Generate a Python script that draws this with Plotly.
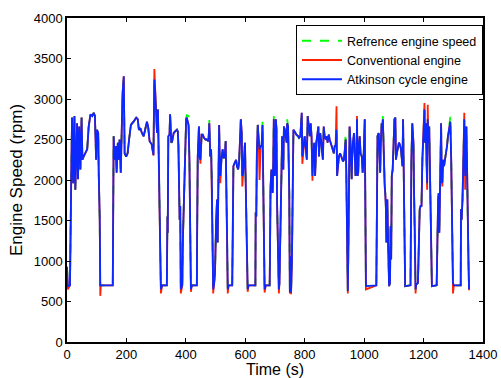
import plotly.graph_objects as go

time_s = [0, 3, 10, 12, 15, 17, 21, 25, 28, 34, 37, 41, 45, 49, 52, 56, 62, 68, 73, 79, 85, 90, 94, 98, 101, 105, 107, 110, 112, 114,
          154, 157, 160, 164, 167, 171, 174, 177, 181, 184, 187, 191, 194, 199, 204, 209, 215, 224, 233, 238, 242, 247, 252, 258,
          263, 269, 273, 278, 285, 291, 294, 297, 303, 306, 309, 314, 316, 320, 336, 338, 339, 341, 345, 347, 351, 354, 359, 364,
          370, 373, 375, 379, 381, 383, 388, 390, 394, 398, 401, 403, 409, 412, 414, 417, 420, 437, 438, 440, 444, 446, 449, 453,
          457, 461, 466, 470, 476, 479, 482, 485, 487, 489, 492, 495, 498, 502, 505, 507, 510, 512, 514, 516, 520, 524, 527, 531,
          534, 536, 539, 541, 544, 556, 558, 560, 564, 569, 572, 576, 579, 582, 585, 588, 590, 593, 596, 599, 601, 604, 606, 608,
          611, 634, 635, 637, 639, 642, 645, 648, 652, 655, 658, 660, 663, 665, 669, 682, 683, 685, 688, 692, 694, 696, 699, 701,
          703, 705, 707, 711, 713, 715, 719, 722, 724, 728, 730, 733, 737, 739, 741, 744, 748, 750, 752, 754, 757, 759, 762, 766,
          769, 772, 778, 781, 785, 788, 790, 792, 795, 797, 800, 804, 807, 810, 814, 817, 820, 823, 826, 828, 832, 835, 839, 843,
          846, 848, 852, 856, 861, 864, 867, 871, 874, 877, 881, 884, 888, 891, 894, 898, 901, 904, 907, 909, 912, 915, 919, 922,
          926, 929, 932, 936, 938, 940, 942, 945, 947, 949, 951, 954, 956, 958, 960, 962, 966, 969, 971, 974, 976, 978, 980, 983,
          985, 988, 992, 995, 998, 1002, 1004, 1006, 1041, 1043, 1045, 1049, 1052, 1054, 1056, 1059, 1061, 1063, 1067, 1069, 1071,
          1073, 1075, 1078, 1080, 1082, 1084, 1087, 1089, 1091, 1093, 1096, 1098, 1100, 1102, 1105, 1107, 1110, 1114, 1117, 1120,
          1124, 1127, 1129, 1131, 1134, 1136, 1138, 1156, 1157, 1159, 1162, 1164, 1166, 1168, 1171, 1173, 1175, 1181, 1184, 1187,
          1190, 1193, 1196, 1199, 1201, 1203, 1205, 1208, 1210, 1212, 1214, 1216, 1219, 1221, 1223, 1225, 1228, 1244, 1247, 1249,
          1251, 1253, 1257, 1259, 1261, 1263, 1266, 1269, 1272, 1276, 1279, 1282, 1287, 1290, 1293, 1295, 1297, 1299, 1302, 1325,
          1326, 1328, 1331, 1333, 1335, 1337, 1340, 1342, 1344, 1346, 1348, 1351, 1353]

atkinson_rpm = [930, 690, 700, 1760, 2250, 2770, 1960, 2790, 1880, 2700, 2010, 2660, 2130, 2770, 2250, 2290, 2330, 2380, 2660, 2810, 2790, 2830, 2790, 2250, 2620, 2580, 2050, 1550, 690, 700,
                700, 2540, 2250, 2420, 2090, 2460, 2250, 2500, 2090, 2790, 3070, 3280, 2330, 2290, 2330, 2500, 2680, 2720, 2770, 2750, 2620, 2640, 2580, 2540,
                2620, 2720, 2660, 2480, 2440, 2310, 3240, 3070, 2580, 2870, 2250, 1390, 650, 700, 700, 1550, 1350, 2540, 2560, 2810, 2460, 2480, 2580, 2600,
                2620, 2600, 2420, 1510, 1680, 650, 700, 1270, 1880, 2420, 2750, 2770, 2680, 2250, 1640, 650, 700, 700, 1350, 2290, 2660, 2290, 2250, 2560,
                2560, 2520, 2500, 2500, 2480, 2700, 2290, 2380, 2050, 1430, 650, 710, 860, 1510, 1760, 1230, 2500, 2680, 2250, 2050, 2270, 2380, 2270, 2290,
                2480, 1640, 1230, 650, 700, 700, 1350, 2170, 2210, 2250, 2170, 2130, 2210, 2460, 2750, 2580, 2050, 2090, 2380, 2460, 2050, 1430, 1180, 650,
                700, 700, 1600, 1550, 2330, 2680, 2500, 2380, 2420, 2420, 2680, 2170, 1470, 650, 700, 700, 1020, 1920, 2130, 1840, 2170, 2750, 2050, 2170,
                2750, 2620, 1720, 860, 650, 730, 1430, 2330, 2540, 2130, 2660, 2620, 2540, 2460, 2700, 2660, 1840, 610, 1060, 610, 1020, 2010, 2620, 2600,
                2580, 2560, 2540, 2520, 2540, 2660, 2830, 2290, 2380, 2420, 2540, 2380, 2250, 2790, 2660, 2540, 2700, 2540, 2050, 2290, 2460, 2050, 2460, 2620,
                2660, 2290, 2580, 2460, 2250, 2660, 2540, 2500, 2540, 2460, 2560, 2500, 2460, 2420, 2380, 2330, 2420, 2420, 2620, 2050, 2250, 2290, 2330, 2290,
                2250, 2230, 2250, 2420, 2500, 2090, 1270, 630, 1180, 1840, 2660, 2460, 2250, 2010, 2290, 2460, 2580, 2250, 2050, 2130, 2750, 2050, 2090, 2460,
                2540, 2330, 2290, 2090, 2250, 2750, 1840, 690, 700, 1840, 2540, 2580, 2380, 2090, 2460, 2700, 2660, 2750, 2050, 1960, 1840,
                1680, 1230, 1760, 1350, 860, 690, 730, 1430, 1020, 2050, 2130, 2330, 2460, 2750, 2770, 2250, 2330, 2420, 2460, 2440,
                2380, 2250, 2170, 2750, 1840, 1020, 690, 700, 1430, 2250, 2700, 2500, 2460, 1840, 1350, 650, 710, 730, 1430, 1640,
                1680, 1680, 2250, 2660, 2750, 2870, 2460, 2700, 2250, 1960, 2750, 2460, 2660, 2250, 1510, 1230, 690, 700, 1640, 1760,
                1840, 1350, 2250, 2700, 2050, 1960, 2250, 2170, 2250, 2330, 2420, 2540, 2660, 2720, 2250, 1430, 1020, 730, 700, 700,
                1640, 1510, 1760, 2250, 2700, 2750, 2050, 2460, 2660, 2250, 1430, 1020, 650]

conventional_rpm = [900, 650, 700, 1760, 2250, 2770, 1960, 2790, 1880, 2700, 2010, 2660, 2130, 2770, 2250, 2290, 2330, 2380, 2660, 2810, 2790, 2830, 2790, 2250, 2620, 2580, 2050, 1550, 570, 700,
                    700, 2540, 2250, 2420, 2090, 2460, 2250, 2500, 2090, 2790, 3070, 3280, 2330, 2290, 2330, 2500, 2680, 2720, 2770, 2750, 2620, 2640, 2580, 2540,
                    2620, 2720, 2660, 2480, 2440, 2300, 3370, 3070, 2580, 2870, 2250, 1390, 600, 700, 700, 1550, 1350, 2540, 2560, 2810, 2460, 2480, 2580, 2600,
                    2620, 2600, 2420, 1510, 1680, 600, 700, 1270, 1880, 2420, 2750, 2770, 2680, 2250, 1640, 620, 700, 700, 1350, 2290, 2660, 2290, 2200, 2560,
                    2560, 2520, 2500, 2500, 2480, 2700, 2290, 2380, 2050, 1430, 600, 710, 860, 1510, 1760, 1230, 2500, 2680, 2250, 1960, 2270, 2380, 2270, 2290,
                    2480, 1640, 1230, 600, 700, 700, 1350, 2170, 2210, 2250, 2170, 2130, 2210, 2460, 2750, 2580, 1920, 2090, 2380, 2460, 2050, 1430, 1180, 620,
                    700, 700, 1600, 1550, 2330, 2680, 2500, 2000, 2420, 2420, 2680, 2170, 1470, 610, 700, 700, 1020, 1920, 2130, 1840, 2170, 2750, 2050, 2170,
                    2750, 2620, 1720, 860, 600, 730, 1430, 2330, 2540, 2130, 2660, 2620, 2540, 2460, 2700, 2660, 1840, 600, 1060, 590, 1020, 2010, 2620, 2600,
                    2580, 2560, 2540, 2520, 2540, 2660, 2830, 2200, 2380, 2420, 2540, 2380, 2250, 2790, 2660, 2540, 2700, 2540, 1990, 2290, 2460, 2050, 2460, 2620,
                    2660, 2290, 2580, 2460, 2250, 2660, 2540, 2500, 2540, 2460, 2560, 2500, 2460, 2420, 2380, 2330, 2420, 2420, 2910, 2050, 2250, 2290, 2330, 2290,
                    2250, 2230, 2250, 2420, 2500, 2090, 1270, 600, 1180, 1840, 2660, 2460, 2250, 2010, 2290, 2460, 2580, 2250, 2050, 2130, 2790, 2050, 2090, 2460,
                    2540, 2330, 2290, 2090, 2250, 2750, 1840, 650, 700, 1840, 2540, 2580, 2380, 2090, 2460, 2700, 2660, 2750, 2050, 1920, 1840,
                    1680, 1230, 1760, 1350, 860, 690, 730, 1430, 1020, 2050, 2130, 2330, 2460, 2750, 2770, 2250, 2330, 2420, 2460, 2440,
                    2380, 2250, 2170, 2750, 1840, 1020, 690, 700, 1430, 2250, 2700, 2500, 2460, 1840, 1350, 600, 710, 730, 1430, 1640,
                    1680, 1680, 2250, 2660, 2750, 2950, 2460, 2700, 2250, 1880, 2930, 2460, 2660, 2250, 1510, 1230, 690, 700, 1640, 1760,
                    1840, 1350, 2250, 2700, 2050, 1920, 2250, 2170, 2250, 2330, 2420, 2540, 2660, 2720, 2250, 1430, 1020, 600, 700, 700,
                    1640, 1510, 1760, 2250, 2700, 2830, 1880, 2460, 2660, 2250, 1430, 1020, 640]

reference_rpm = [930, 690, 700, 1760, 2250, 2770, 1960, 2790, 1880, 2700, 2010, 2660, 2130, 2770, 2250, 2290, 2330, 2380, 2660, 2810, 2790, 2830, 2790, 2250, 2620, 2600, 2050, 1550, 690, 700,
                 700, 2540, 2250, 2420, 2090, 2460, 2250, 2500, 2090, 2790, 3070, 3280, 2330, 2290, 2330, 2500, 2680, 2720, 2770, 2750, 2620, 2640, 2580, 2540,
                 2620, 2720, 2660, 2480, 2440, 2310, 3240, 3070, 2580, 2870, 2250, 1390, 650, 700, 700, 1550, 1350, 2540, 2560, 2810, 2460, 2480, 2580, 2600,
                 2620, 2600, 2420, 1510, 1680, 650, 700, 1270, 1880, 2420, 2750, 2800, 2790, 2250, 1640, 650, 700, 700, 1350, 2290, 2660, 2290, 2250, 2560,
                 2560, 2520, 2500, 2500, 2480, 2740, 2290, 2380, 2050, 1430, 650, 710, 860, 1510, 1760, 1230, 2500, 2680, 2250, 2050, 2270, 2380, 2270, 2290,
                 2480, 1640, 1230, 650, 700, 700, 1350, 2170, 2210, 2250, 2170, 2130, 2210, 2460, 2750, 2580, 2050, 2090, 2380, 2460, 2050, 1430, 1180, 650,
                 700, 700, 1600, 1550, 2330, 2680, 2500, 2380, 2420, 2420, 2720, 2170, 1470, 650, 700, 700, 1020, 1920, 2130, 1840, 2170, 2790, 2050, 2170,
                 2750, 2620, 1720, 860, 650, 730, 1430, 2330, 2540, 2130, 2660, 2620, 2540, 2460, 2750, 2660, 1840, 610, 1060, 610, 1020, 2010, 2620, 2600,
                 2580, 2560, 2540, 2520, 2540, 2660, 2830, 2290, 2380, 2420, 2540, 2380, 2250, 2790, 2660, 2540, 2700, 2540, 2050, 2290, 2460, 2050, 2460, 2620,
                 2660, 2290, 2580, 2460, 2250, 2660, 2540, 2500, 2540, 2460, 2560, 2500, 2460, 2420, 2380, 2330, 2420, 2420, 2620, 2050, 2250, 2290, 2330, 2290,
                 2250, 2230, 2250, 2420, 2580, 2090, 1270, 630, 1180, 1840, 2660, 2460, 2250, 2010, 2290, 2460, 2580, 2250, 2050, 2130, 2750, 2050, 2090, 2460,
                 2540, 2330, 2290, 2090, 2250, 2750, 1840, 690, 700, 1840, 2540, 2580, 2380, 2090, 2460, 2700, 2660, 2790, 2050, 1960, 1840,
                 1680, 1230, 1760, 1350, 860, 690, 730, 1430, 1020, 2050, 2130, 2330, 2460, 2750, 2770, 2250, 2330, 2420, 2460, 2440,
                 2380, 2250, 2170, 2790, 1840, 1020, 690, 700, 1430, 2250, 2700, 2500, 2530, 1840, 1350, 650, 710, 730, 1430, 1640,
                 1680, 1680, 2250, 2660, 2750, 2870, 2460, 2700, 2250, 1960, 2750, 2460, 2660, 2250, 1510, 1230, 690, 700, 1640, 1760,
                 1840, 1350, 2250, 2700, 2050, 1960, 2250, 2170, 2250, 2330, 2420, 2540, 2660, 2780, 2250, 1430, 1020, 730, 700, 700,
                 1640, 1510, 1760, 2250, 2700, 2750, 2050, 2460, 2660, 2250, 1430, 1020, 650]

assert len(time_s) == len(atkinson_rpm) == len(conventional_rpm) == len(reference_rpm), (
    len(time_s), len(atkinson_rpm), len(conventional_rpm), len(reference_rpm))

x_ticks = [0, 200, 400, 600, 800, 1000, 1200, 1400]
y_ticks = [0, 500, 1000, 1500, 2000, 2500, 3000, 3500, 4000]

FONT = "Liberation Sans, Arial, Helvetica, sans-serif"

fig = go.Figure()
fig.add_trace(go.Scatter(x=time_s, y=reference_rpm, mode="lines", name="Refrence engine speed",
                         line=dict(color="#00ff00", width=1.8, dash="dash")))
fig.add_trace(go.Scatter(x=time_s, y=conventional_rpm, mode="lines", name="Conventional engine",
                         line=dict(color="#ff2000", width=1.8)))
fig.add_trace(go.Scatter(x=time_s, y=atkinson_rpm, mode="lines", name="Atkinson cycle engine",
                         line=dict(color="#0a28ff", width=1.8)))

axis_common = dict(showline=True, linecolor="black", linewidth=1.5, mirror="ticks", ticks="inside",
                   ticklen=4, tickcolor="black", showgrid=False, zeroline=False, automargin=False,
                   tickfont=dict(family=FONT, size=13, color="black"))

fig.update_layout(
    width=501, height=378,
    margin=dict(l=67, r=18, t=18, b=36, pad=0),
    paper_bgcolor="white", plot_bgcolor="white",
    font=dict(family=FONT, color="black"),
    xaxis=dict(range=[0, 1400], tickvals=x_ticks,
               title=dict(text="Time (s)", font=dict(size=16), standoff=2), **axis_common),
    yaxis=dict(range=[0, 4000], tickvals=y_ticks,
               title=dict(text="Engine Speed (rpm)", font=dict(size=17), standoff=7), **axis_common),
    legend=dict(x=1, xanchor="right", y=0.978, yanchor="top", bgcolor="white",
                bordercolor="black", borderwidth=1, font=dict(family=FONT, size=12.5),
                tracegroupgap=0, itemwidth=40),
    showlegend=True,
)

fig.write_html("out.html", config={"displayModeBar": False},
               post_script="document.body.style.margin='0';document.body.style.overflow='hidden';")
